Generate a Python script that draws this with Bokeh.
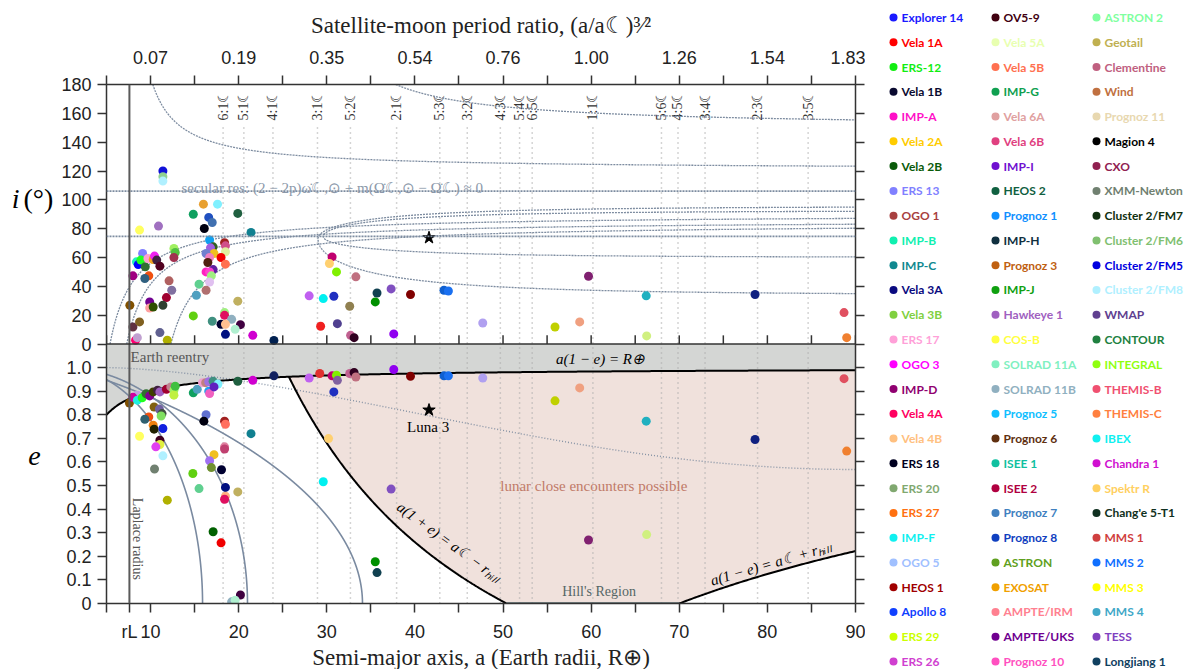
import numpy as np
from bokeh.plotting import figure
from bokeh.models import Range1d, LinearAxis, FixedTicker, Span, Label, ColumnDataSource, Title
from bokeh.layouts import row
from bokeh.core.properties import value
from bokeh.embed import file_html
from bokeh.resources import INLINE

# ---------------------------------------------------------------- constants
A_MOON = 60.2       # lunar semi-major axis (Earth radii)
R_HILL = 9.8        # lunar Hill radius (Earth radii)
R_EARTH = 1.0
R_LAPLACE = 7.6     # Laplace radius
E_TOP = 1.1         # top of the eccentricity panel
I_TOP = 180.0

SERIF = "Liberation Serif"
SANS = "Liberation Sans"

# ---------------------------------------------------------------- legend
craft_names = [
    "Explorer 14", "Vela 1A", "ERS-12", "Vela 1B", "IMP-A", "Vela 2A", "Vela 2B", "ERS 13", "OGO 1",
    "IMP-B", "IMP-C", "Vela 3A", "Vela 3B", "ERS 17", "OGO 3", "IMP-D", "Vela 4A", "Vela 4B",
    "ERS 18", "ERS 20", "ERS 27", "IMP-F", "OGO 5", "HEOS 1", "Apollo 8", "ERS 29", "ERS 26",
    "OV5-9", "Vela 5A", "Vela 5B", "IMP-G", "Vela 6A", "Vela 6B", "IMP-I", "HEOS 2", "Prognoz 1",
    "IMP-H", "Prognoz 3", "IMP-J", "Hawkeye 1", "COS-B", "SOLRAD 11A", "SOLRAD 11B", "Prognoz 5",
    "Prognoz 6", "ISEE 1", "ISEE 2", "Prognoz 7", "Prognoz 8", "ASTRON", "EXOSAT", "AMPTE/IRM",
    "AMPTE/UKS", "Prognoz 10",
    "ASTRON 2", "Geotail", "Clementine", "Wind", "Prognoz 11", "Magion 4", "CXO", "XMM-Newton",
    "Cluster 2/FM7", "Cluster 2/FM6", "Cluster 2/FM5", "Cluster 2/FM8", "WMAP", "CONTOUR",
    "INTEGRAL", "THEMIS-B", "THEMIS-C", "IBEX", "Chandra 1", "Spektr R", "Chang'e 5-T1", "MMS 1",
    "MMS 2", "MMS 3", "MMS 4", "TESS", "Longjiang 1",
]
craft_colors = [
    "#1a1aff", "#ff0000", "#11ee11", "#0a0a30", "#ff10c8", "#ffcc00", "#0a5a0a", "#8080ff", "#a84040",
    "#10f0b0", "#108890", "#0a0a80", "#80d040", "#ffa0d8", "#ff00ff", "#900070", "#ff0060", "#ffc080",
    "#000020", "#80a870", "#ff7010", "#10f0f0", "#a0c0ff", "#a00000", "#1040ff", "#ccff00", "#d040d0",
    "#400010", "#e8ffb0", "#ff7050", "#10a050", "#e0a0a0", "#e04080", "#7010d0", "#106040", "#1090ff",
    "#103040", "#c06010", "#10a010", "#a060c0", "#ffff40", "#80f0c0", "#90b0c0", "#10c0ff",
    "#603010", "#10c0a0", "#b00040", "#4080c0", "#1040c0", "#60a020", "#f0a000", "#ff8090",
    "#700090", "#ff50c0",
    "#80ffa0", "#c0b050", "#c06080", "#c07040", "#e8d8b0", "#000000", "#902050", "#708070",
    "#103010", "#80c070", "#0000e0", "#b0f0ff", "#604090", "#208040",
    "#90ff10", "#f05070", "#ff8040", "#10f0f0", "#d010d0", "#ffd060", "#103020", "#d04040",
    "#1070ff", "#ffff00", "#40a8c8", "#8040c0", "#104060",
]

# ---------------------------------------------------------------- orbits: (a, inclination)
inc_a = [11.4, 11.4, 11.4, 8.75, 10.9, 16.0, 17.6, 14.85, 19.9, 16.6, 17.0, 16.1, 21.4, 16.7, 18.4,
         18.5, 17.1, 16.8, 18.5, 17.2, 16.3, 16.7, 18.0, 16.5, 18.5, 17.1, 16.3, 16.7, 16.9, 16.7,
         15.5, 16.3, 15.2, 19.9, 14.85, 18.4, 18.4, 17.0, 19.2, 18.0, 18.5, 20.2, 19.6, 18.5, 21.6,
         24.0, 8.0, 7.65, 8.0, 8.75, 8.3, 8.5, 8.4, 9.1, 8.6, 8.9, 9.4, 9.8, 9.35, 9.7, 10.3, 10.45,
         10.7, 11.06, 12.65, 12.8, 12.65, 12.1, 12.4, 11.8, 9.9, 9.9, 10.3, 11.4, 11.06, 11.9,
         30.6, 30.3, 31.1, 33.3, 28.0, 29.6, 30.8, 35.7, 35.5, 37.3, 39.5, 43.3, 43.8, 32.6, 29.3,
         31.2, 32.7, 33.1, 37.6, 47.7, 55.9, 58.7, 59.7, 66.25, 78.6, 66.3, 88.7, 89.0]
inc_deg = [120.0, 116.0, 113.0, 79.0, 81.8, 97.0, 97.0, 90.0, 90.6, 87.8, 84.3, 80.1, 77.4, 72.1, 70.2,
           68.1, 67.4, 66.7, 64.0, 62.8, 62.8, 60.0, 60.0, 56.5, 55.4, 51.6, 50.0, 50.0, 47.3, 43.0,
           41.5, 37.3, 33.8, 29.7, 19.5, 21.8, 19.9, 15.8, 17.1, 13.7, 13.7, 13.4, 10.2, 6.7, 6.0,
           2.5, 47.3, 26.9, 11.8, 15.3, 2.6, 4.4, 57.0, 62.8, 55.1, 58.2, 53.5, 47.3, 45.4, 59.3, 58.6,
           61.0, 58.2, 54.0, 66.3, 63.5, 60.0, 43.8, 37.3, 32.2, 29.2, 25.0, 25.7, 26.9, 7.9, 2.6,
           60.4, 55.8, 50.0, 46.6, 33.4, 31.5, 33.1, 35.4, 29.2, 38.2, 34.3, 37.3, 36.8, 26.2, 12.3,
           14.1, 6.0, 4.4, 7.0, 14.6, 11.8, 15.3, 47.0, 33.4, 34.3, 5.6, 21.8, 4.4]
inc_color = ["#1010d8", "#90d090", "#b0f0ff", "#ffff60", "#a070c0", "#e8a030", "#80f0ff", "#10a060",
             "#206040", "#2050c0", "#4070b0", "#000010", "#108090", "#10a0f0", "#a02020", "#d0508a",
             "#306020", "#a060e0", "#e0f0a0", "#f0c020", "#7080d0", "#f080c0", "#f00000", "#502010",
             "#ff7050", "#6020a0", "#ff20c0", "#ff40d0", "#a0f080", "#e0c0f0", "#60d090", "#b07070",
             "#50a0c0", "#c0b060", "#60d010", "#a0f080", "#e01060", "#409080", "#90b0c0", "#000030",
             "#ffc090", "#400040", "#b0f0d0", "#001080", "#d000d0", "#002050", "#a00080", "#805000",
             "#603040", "#806020", "#ff0070", "#c0a0d0", "#20f0c0", "#8080ff", "#0000ff", "#20ff20",
             "#307030", "#f05010", "#306080", "#ffa0d0", "#f0a020", "#f020f0", "#402040", "#500020",
             "#a0f060", "#50c040", "#a03050", "#b06060", "#8070a0", "#a00030", "#700090", "#ffa0a0",
             "#305000", "#304030", "#606090", "#b0b000",
             "#c0006f", "#ffd070", "#80f000", "#c07080", "#c060f0", "#00f0f0", "#2030c0", "#104050",
             "#009000", "#8050c0", "#800000", "#1060d0", "#1a70f0", "#908050", "#f02020", "#504090",
             "#c06090", "#300020", "#9000f0", "#b0a0f0", "#c0d000", "#f0a080", "#802070", "#20b0c0",
             "#102080", "#d0f080", "#e05060", "#f08030"]

# ---------------------------------------------------------------- orbits: (a, eccentricity)
ecc_a = [7.6, 8.5, 8.0, 8.5, 9.05, 9.5, 9.9, 10.3, 10.8, 11.06, 11.8, 12.3, 12.65, 12.8, 12.65, 14.85,
         15.3, 15.9, 16.25, 16.6, 17.1, 17.65, 16.6, 16.7, 17.2, 19.9, 21.6, 24.0, 10.4, 11.0, 11.3,
         11.2, 9.8, 9.35, 10.3, 10.4, 11.4, 8.75, 11.06, 11.06, 10.6, 11.4, 10.45, 11.9, 16.3, 16.05,
         18.4, 18.5, 21.4, 18.4, 18.4, 17.2, 16.7, 16.9, 18.05, 14.8, 15.5, 18.5, 18.5, 18.4, 19.9,
         17.1, 18.0, 20.2, 19.2, 19.6, 28.0, 29.2, 30.6, 31.1, 31.2, 32.6, 33.1, 33.3, 30.8, 37.6,
         39.5, 43.3, 43.8, 47.7, 58.7, 55.9, 30.2, 29.6, 37.3, 35.5, 35.7, 59.7, 66.25, 66.3, 78.6,
         88.7, 89.0]
ecc_e = [0.85, 0.883, 0.874, 0.862, 0.872, 0.889, 0.88, 0.897, 0.904, 0.897, 0.908, 0.918, 0.904,
         0.921, 0.883, 0.893, 0.908, 0.936, 0.936, 0.94, 0.942, 0.93, 0.9, 0.89, 0.918, 0.942, 0.946,
         0.965, 0.833, 0.824, 0.805, 0.795, 0.791, 0.781, 0.756, 0.739, 0.742, 0.709, 0.692, 0.674,
         0.664, 0.626, 0.57, 0.438, 0.8, 0.773, 0.773, 0.76, 0.72, 0.664, 0.655, 0.631, 0.605, 0.576,
         0.567, 0.551, 0.487, 0.492, 0.455, 0.442, 0.473, 0.304, 0.257, 0.036, 0.007, 0.014, 0.956,
         0.975, 0.965, 0.968, 0.946, 0.975, 0.979, 0.96, 0.897, 0.992, 0.963, 0.965, 0.965, 0.956,
         0.914, 0.859, 0.699, 0.516, 0.485, 0.177, 0.131, 0.269, 0.773, 0.292, 0.695, 0.953, 0.646]
ecc_color = ["#805000", "#c0a0e0", "#d000a0", "#20f0e0", "#20ff20", "#307030", "#800090", "#404000",
             "#402040", "#a060c0", "#a00030", "#c08090", "#a0f060", "#40c040", "#c0f040", "#10a060",
             "#50a0c0", "#f0a0d0", "#c08080", "#a070e0", "#409080", "#80f0ff", "#20a0f0", "#f060c0",
             "#6020c0", "#206040", "#d000d0", "#102060", "#806010", "#7060a0", "#405040", "#80e060",
             "#f05010", "#306070", "#f08010", "#202000", "#1020e0", "#ffff60", "#400020", "#e0f040",
             "#e040f0", "#b0f0ff", "#708070", "#b0b000", "#6070d0", "#000010", "#a02020", "#ff7060",
             "#108090", "#e080a0", "#c04070", "#f0c020", "#a070f0", "#709030", "#000030", "#60d010",
             "#60d090", "#001080", "#ffb080", "#e01060", "#c0b060", "#006000", "#f00000", "#400040",
             "#90b0c0", "#b0f0d0", "#c060f0", "#e03030", "#c0006f", "#80f000", "#8060a0", "#c06090",
             "#300020", "#c07080", "#2030c0", "#9000f0", "#800000", "#1060d0", "#1a70f0", "#b0a0f0",
             "#f0a080", "#c0d000", "#ffd070", "#00f0f0", "#8050c0", "#009000", "#104050", "#802070",
             "#20b0c0", "#d0f080", "#102080", "#e05060", "#f08030"]

# Luna 3
luna_a = [41.6]
luna_e = [0.82]
luna_i = [73.7]

# mean-motion resonances p:q with the Moon
res_p = [6, 5, 4, 3, 5, 2, 5, 3, 4, 5, 6, 1, 5, 4, 3, 2, 3]
res_q = [1, 1, 1, 1, 2, 1, 3, 2, 3, 4, 5, 1, 6, 5, 4, 3, 5]

# axes
a_ticks = list(range(5, 91, 5))
a_label_ticks = [10, 20, 30, 40, 50, 60, 70, 80, 90]
ratio_labels = ["0.07", "0.19", "0.35", "0.54", "0.76", "1.00", "1.26", "1.54", "1.83"]
e_ticks = [0.0, 0.1, 0.2, 0.3, 0.4, 0.5, 0.6, 0.7, 0.8, 0.9, 1.0]
i_ticks = [0, 20, 40, 60, 80, 100, 120, 140, 160, 180]

# secular-resonance curves in (a, i)
sec_res_flat = [106.0, 74.6]
falling_branches = [(121.0, 192.0, 7.0), (150.0, 349.0, 26.2)]     # i = i_inf + b/(a - pole)
rising_branches = [(90.0, 252.0, 2.6), (86.0, 249.4, 4.4), (84.0, 300.0, 8.73)]  # i = i_inf - b/(a - pole)
loop_branches = [(29.0, 73.0, 22.5, 39.0), (29.6, 74.5, 18.0, 14.5)]  # vertex a, vertex i, up, down
LOOP_SCALE = 12.7
# curves in (a, e): a = C (1 - e^2)^k
ae_curves = [(15.9, 0.5), (21.0, 0.5), (34.05, 0.85)]


def inc_to_y(i):
    return E_TOP + E_TOP * np.asarray(i, dtype=float) / I_TOP


y_shared = Range1d(0, 2 * E_TOP)

# ---------------------------------------------------------------- main figure
p = figure(frame_width=749, frame_height=519,
           x_range=Range1d(5, 90), y_range=y_shared,
           output_backend="svg", toolbar_location=None,
           x_axis_location=None, y_axis_location=None,
           min_border_left=50, min_border_right=10, min_border_top=83, min_border_bottom=67)
p.extra_y_ranges = {"inc": Range1d(-I_TOP, I_TOP)}
p.xgrid.visible = False
p.ygrid.visible = False
p.outline_line_color = None

AX = "#333333"


def style_axis(ax, standoff):
    ax.axis_line_color = AX
    ax.axis_line_width = 1.5
    ax.major_tick_line_color = AX
    ax.major_tick_line_width = 1.5
    ax.major_tick_out = 9
    ax.major_tick_in = 0
    ax.minor_tick_line_color = None
    ax.major_label_text_font = SANS
    ax.major_label_text_font_size = "18px"
    ax.major_label_text_color = "#222222"
    ax.major_label_standoff = standoff


bottom_ticks = a_ticks + [R_LAPLACE]
bottom_labels = {t: (str(t) if t in a_label_ticks else "") for t in a_ticks}
bottom_labels[R_LAPLACE] = "rL"
bottom = LinearAxis(ticker=FixedTicker(ticks=bottom_ticks), major_label_overrides=bottom_labels,
                    axis_label="Semi-major axis, a (Earth radii, R⊕)")
style_axis(bottom, 9)
bottom.axis_label_text_font = SERIF
bottom.axis_label_text_font_size = "23px"
bottom.axis_label_text_font_style = "normal"
bottom.axis_label_text_color = "#222222"
bottom.axis_label_standoff = 0
p.add_layout(bottom, "below")

ratio_map = dict(zip(a_label_ticks, ratio_labels))
top = LinearAxis(ticker=FixedTicker(ticks=a_ticks),
                 major_label_overrides={t: ratio_map.get(t, "") for t in a_ticks})
style_axis(top, 12)
p.add_layout(top, "above")
p.add_layout(Title(text="Satellite-moon period ratio, (a/a☾)³⁄²", align="center", text_font=SERIF,
                   text_font_size="23px", text_font_style="normal", text_color="#222222",
                   standoff=20), "above")

i_pos = [float(v) for v in inc_to_y(i_ticks)]
left_ticks = e_ticks + i_pos
left_labels = {t: ("0" if t == 0 else f"{t:.1f}") for t in e_ticks}
left_labels.update({pos: str(t) for pos, t in zip(i_pos, i_ticks)})
left = LinearAxis(ticker=FixedTicker(ticks=left_ticks), major_label_overrides=left_labels)
style_axis(left, 6)
p.add_layout(left, "left")

right = LinearAxis(ticker=FixedTicker(ticks=left_ticks), major_label_overrides={t: "" for t in left_ticks})
style_axis(right, 0)
p.add_layout(right, "right")

# ---------------------------------------------------------------- regions
a_grid = np.linspace(5, 90, 500)
p.varea(x=a_grid, y1=1 - R_EARTH / a_grid, y2=E_TOP, fill_color="#d4d6d4")

a_in = (A_MOON - R_HILL + R_EARTH) / 2
a_left_end = A_MOON - R_HILL
a_right_start = A_MOON + R_HILL
a_enc = np.concatenate([np.linspace(a_in, a_left_end, 300),
                        np.linspace(a_left_end, a_right_start, 50),
                        np.linspace(a_right_start, 90, 100)])
low = np.maximum.reduce([np.zeros_like(a_enc), (A_MOON - R_HILL) / a_enc - 1, 1 - (A_MOON + R_HILL) / a_enc])
p.varea(x=a_enc, y1=low, y2=1 - R_EARTH / a_enc, fill_color="#f0e1dc")

# ---------------------------------------------------------------- resonance lines
res_a = [A_MOON * (q / pp) ** (2.0 / 3.0) for pp, q in zip(res_p, res_q)]
res_src = ColumnDataSource(dict(a=res_a, y0=[0.0] * len(res_a), y1=[float(inc_to_y(153))] * len(res_a),
                                lab=[f"{pp}:{q}☾" for pp, q in zip(res_p, res_q)],
                                ylab=[float(inc_to_y(176.5))] * len(res_a)))
p.segment(x0="a", y0="y0", x1="a", y1="y1", source=res_src, line_color="#aaaaaa",
          line_width=1.5, line_dash="1 4")
p.text(x="a", y="ylab", text="lab", source=res_src, angle=np.pi / 2, text_align="right",
       text_baseline="middle", text_font=value(SERIF), text_font_size="14px", text_color="#333333")

# ---------------------------------------------------------------- secular resonance curves (a, i)
CURVE = "#7d8ca0"
for loc in sec_res_flat:
    p.add_layout(Span(location=loc, dimension="width", y_range_name="inc", line_color=CURVE,
                      line_width=1.8, line_dash="2 1"))
for i_inf, b, pole in falling_branches:
    a0 = pole + b / (I_TOP - i_inf)
    aa = a0 + (90 - a0) * np.linspace(0, 1, 1500) ** 2
    p.line(aa, i_inf + b / (aa - pole), y_range_name="inc", line_color=CURVE, line_width=1.3, line_dash="2 1")
for i_inf, b, pole in rising_branches:
    a0 = pole + b / i_inf
    aa = a0 + (90 - a0) * np.linspace(0, 1, 1500) ** 2
    p.line(aa, i_inf - b / (aa - pole), y_range_name="inc", line_color=CURVE, line_width=1.3, line_dash="2 1")
for av, iv, up, dn in loop_branches:
    umax = np.sqrt((90 - av) / LOOP_SCALE)
    u = np.linspace(-umax, umax, 800)
    ii = iv + np.where(u > 0, up * np.tanh(u), dn * np.tanh(u))
    p.line(av + LOOP_SCALE * u ** 2, ii, y_range_name="inc", line_color=CURVE, line_width=1.3, line_dash="2 1")

# ---------------------------------------------------------------- curves in (a, e)
for c, k in ae_curves:
    ee = np.linspace(0, 0.9995, 1500)
    aa = c * (1 - ee ** 2) ** k
    m = aa >= 5
    p.line(aa[m], ee[m], line_color="#7a8aa0", line_width=1.6)

xs = (a_grid - 5) / 85.0
p.line(a_grid, 1 - 0.432 * np.sin(np.pi / 2 * xs) ** 1.6, line_color="#8592a4", line_width=1.4, line_dash="1 2")

# boundaries
p.line(a_grid, 1 - R_EARTH / a_grid, line_color="black", line_width=2)
al = np.linspace(a_in, a_left_end, 300)
p.line(al, (A_MOON - R_HILL) / al - 1, line_color="black", line_width=2)
ar = np.linspace(a_right_start, 90, 100)
p.line(ar, 1 - (A_MOON + R_HILL) / ar, line_color="black", line_width=2)
p.line([a_left_end, a_right_start], [0, 0], line_color="#52646a", line_width=2.5)

p.add_layout(Span(location=R_LAPLACE, dimension="height", line_color="#5a5a5a", line_width=2))
p.add_layout(Span(location=E_TOP, dimension="width", line_color=AX, line_width=1.5))

# inward ticks along the bottom of the inclination panel
p.segment(x0=a_ticks, y0=[0] * len(a_ticks), x1=a_ticks, y1=[6] * len(a_ticks),
          y_range_name="inc", line_color=AX, line_width=1.5)

# ---------------------------------------------------------------- orbits
p.scatter(x=inc_a, y=inc_deg, y_range_name="inc", size=9, fill_color=inc_color, line_color=None)
p.scatter(x=ecc_a, y=ecc_e, size=9, fill_color=ecc_color, line_color=None)
p.scatter(x=luna_a, y=luna_i, y_range_name="inc", marker="star", size=13, color="black")
p.scatter(x=luna_a, y=luna_e, marker="star", size=13, color="black")


# ---------------------------------------------------------------- text in the panels
def lab(fig, x, y, text, size=15, color="black", style="normal", align="left", baseline="middle",
        angle=0.0, font=SERIF, yr="default"):
    fig.add_layout(Label(x=x, y=y, text=text, text_font=font, text_font_size=f"{size}px",
                         text_color=color, text_font_style=style, text_align=align,
                         text_baseline=baseline, angle=angle, y_range_name=yr))


lab(p, 13.5, 108.4, "secular res: (2 − 2p)ω\u0307☾,⊙ + m(Ω\u0307☾,⊙ − Ω\u0307☾) ≈ 0", size=15,
    color="#8c99aa", baseline="alphabetic", yr="inc")
lab(p, 7.73, 1.045, "Earth reentry", color="#555555")
lab(p, 56.0, 1.037, "a(1 − e) = R⊕", style="italic")
lab(p, 41.5, 0.749, "Luna 3", align="center")
lab(p, 60.3, 0.499, "lunar close encounters possible", color="#c07a68", align="center")
lab(p, 60.9, 0.05, "Hill's Region", color="#556666", align="center", size=14)
lab(p, 43.9, 0.26, "a(1 + e) = a☾ − rₕᵢₗₗ", style="italic", align="center", angle=-0.63)
lab(p, 80.4, 0.17, "a(1 − e) = a☾ + rₕᵢₗₗ", style="italic", align="center", angle=0.285)
lab(p, 8.55, 0.274, "Laplace radius", color="#555555", align="center", angle=-np.pi / 2, size=14)

# ---------------------------------------------------------------- y-axis titles
LEFT_W = 56
side = figure(width=LEFT_W, height=669, x_range=Range1d(0, LEFT_W), y_range=y_shared,
              output_backend="svg", toolbar_location=None, x_axis_location=None, y_axis_location=None,
              min_border=0)
side.xgrid.visible = False
side.ygrid.visible = False
side.outline_line_color = None
lab(side, 19, float(inc_to_y(100.8)), "i", size=28, style="italic", align="right")
lab(side, 23, float(inc_to_y(100.8)), "(°)", size=28)
lab(side, 34, 0.617, "e", size=28, style="italic", align="center")

# ---------------------------------------------------------------- legend panel
LEG_W = 322
leg = figure(width=LEG_W, height=669, x_range=Range1d(0, LEG_W), y_range=Range1d(669, 0),
             output_backend="svg", toolbar_location=None, x_axis_location=None, y_axis_location=None,
             min_border=0)
try:
    leg.frame_align = False
except AttributeError:
    pass
leg.xgrid.visible = False
leg.ygrid.visible = False
leg.outline_line_color = None

per_col = 27
col_x = [28, 130, 231]
lx = [col_x[k // per_col] for k in range(len(craft_names))]
ly = [17 + (k % per_col) * 24.77 for k in range(len(craft_names))]
lsrc = ColumnDataSource(dict(x=lx, tx=[v + 8 for v in lx], y=ly, name=craft_names, color=craft_colors))
leg.scatter(x="x", y="y", source=lsrc, size=8, fill_color="color", line_color=None)
leg.text(x="tx", y="y", text="name", source=lsrc, text_color="color", text_font=value("Lato"),
         text_font_style="bold", text_font_size="12px", text_baseline="middle")

layout = row(side, p, leg)
open("out.html", "w").write(file_html(layout, INLINE))
